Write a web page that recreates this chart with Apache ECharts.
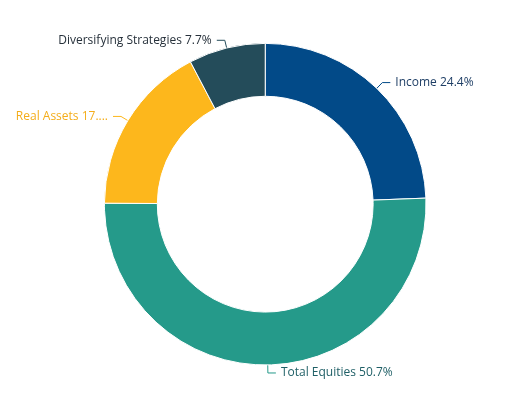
<!DOCTYPE html>
<html><head><meta charset="utf-8">
<script src="https://cdn.jsdelivr.net/npm/echarts@6/dist/echarts.min.js"></script>
<style>html,body{margin:0;padding:0;background:#fff}#c{width:516px;height:415px}</style>
</head><body><div id="c"></div>
<script>
const categories = ["Income", "Total Equities", "Real Assets", "Diversifying Strategies"];
const values = [24.4, 50.7, 17.2, 7.7];
const colors = ["#024a88", "#259a8a", "#fdb71c", "#244c5a"];
const labelColors = ["#1f3f66", "#1f5f66", "#f4ad1a", "#27313b"];
const chart = echarts.init(document.getElementById('c'));
chart.setOption({
  animation: false,
  series: [{
    type: 'pie',
    center: ['51.4%', '49.2%'],
    radius: ['52%', '77.5%'],
    startAngle: 90,
    itemStyle: { borderColor: '#fff', borderWidth: 1 },
    label: { fontFamily: 'Open Sans', fontSize: 12, formatter: p => p.name + ' ' + p.value + '%' },
    labelLine: { length: 8, length2: 8 },
    data: categories.map((n, i) => ({
      name: n, value: values[i],
      itemStyle: { color: colors[i] },
      label: { color: labelColors[i] },
      labelLine: { lineStyle: { color: colors[i] } }
    }))
  }]
});
</script></body></html>
